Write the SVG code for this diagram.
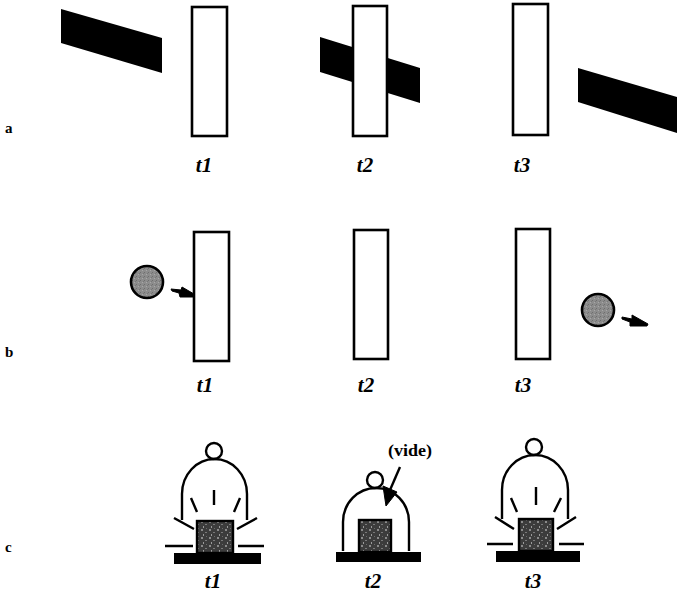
<svg xmlns="http://www.w3.org/2000/svg" width="677" height="601" viewBox="0 0 677 601">
  <style>
    .plate { fill: #fff; stroke: #000; stroke-width: 2.6; }
    .bar { fill: #000; }
    .ball { fill: url(#grain); stroke: #000; stroke-width: 2.6; }
    .dome { fill: none; stroke: #000; stroke-width: 2.4; }
    .ray { fill: none; stroke: #000; stroke-width: 2.4; stroke-linecap: butt; }
    .knob { fill: #fff; stroke: #000; stroke-width: 2.4; }
    .sample { fill: url(#mottle); stroke: #000; stroke-width: 2.4; }
    .base { fill: #000; }
    .tlabel { font-family: "Liberation Serif", serif; font-weight: bold; font-style: italic; font-size: 21px; text-anchor: middle; fill: #000; }
    .row { font-family: "Liberation Serif", serif; font-weight: bold; font-size: 15px; fill: #000; }
    .note { font-family: "Liberation Serif", serif; font-weight: bold; font-size: 16px; fill: #000; }
    .arrow { fill: #000; stroke: #000; stroke-width: 1; stroke-linejoin: round; }
  </style>
  <defs>
    <pattern id="grain" width="4" height="4" patternUnits="userSpaceOnUse">
      <rect width="4" height="4" fill="#8c8c8c"/>
      <rect x="0" y="0" width="1" height="1" fill="#6e6e6e"/>
      <rect x="2" y="2" width="1" height="1" fill="#a8a8a8"/>
      <rect x="3" y="1" width="1" height="1" fill="#777"/>
    </pattern>
    <pattern id="mottle" width="8" height="8" patternUnits="userSpaceOnUse">
      <rect width="8" height="8" fill="#3c3c3c"/>
      <rect x="1" y="1" width="2" height="2" fill="#8a8a8a"/>
      <rect x="5" y="4" width="2" height="1" fill="#7a7a7a"/>
      <rect x="3" y="6" width="1" height="2" fill="#9a9a9a"/>
      <rect x="6" y="0" width="1" height="1" fill="#6a6a6a"/>
    </pattern>
  </defs>

  <!-- row labels -->
  <text class="row" x="5" y="133">a</text>
  <text class="row" x="5" y="357">b</text>
  <text class="row" x="5" y="552">c</text>

  <!-- row a: slab passing through a wall -->
  <g id="a-t1">
    <polygon class="bar" points="61,9 162,38 162,73 61,43"/>
    <rect class="plate" x="192" y="7" width="35" height="129"/>
    <text class="tlabel" x="204" y="172">t1</text>
  </g>
  <g id="a-t2">
    <polygon class="bar" points="320,37 420,68 420,103 320,72"/>
    <rect class="plate" x="353" y="6" width="34" height="130"/>
    <text class="tlabel" x="365" y="172">t2</text>
  </g>
  <g id="a-t3">
    <rect class="plate" x="513" y="4" width="35" height="131"/>
    <polygon class="bar" points="578,68 677,97 677,133 578,102"/>
    <text class="tlabel" x="522" y="172">t3</text>
  </g>

  <!-- row b: ball crossing a wall -->
  <g id="b-t1">
    <circle class="ball" cx="147" cy="282" r="16"/>
    <rect class="plate" x="194" y="232" width="35" height="129"/>
    <text class="tlabel" x="205" y="392">t1</text>
  </g>
  <g id="b-t2">
    <rect class="plate" x="354" y="230" width="34" height="129"/>
    <text class="tlabel" x="366" y="392">t2</text>
  </g>
  <g id="b-t3">
    <rect class="plate" x="516" y="229" width="34" height="130"/>
    <circle class="ball" cx="598" cy="310" r="16"/>
    <text class="tlabel" x="523" y="392">t3</text>
  </g>

  <!-- row c: bell jar over a sample -->
  <g id="c-t1">
    <circle class="knob" cx="214" cy="451" r="8"/>
    <path class="dome" d="M182,520 V494 A32.5,35 0 0 1 247,494 V520"/>
    <path class="ray" d="M191,498 L197,512 M214,490 V505 M240,498 L234,512"/>
    <path class="ray" d="M174,518 L194,529 M237,529 L257,518"/>
    <path class="ray" d="M165,546 H193 M238,546 H264"/>
    <rect class="sample" x="197" y="521" width="36" height="32"/>
    <rect class="base" x="174" y="553" width="87" height="11"/>
    <text class="tlabel" x="213" y="588">t1</text>
  </g>
  <g id="c-t2">
    <circle class="knob" cx="375" cy="480" r="8"/>
    <path class="dome" d="M343,551 V522 A33,34 0 0 1 409,522 V551"/>
    <rect class="sample" x="359" y="520" width="32" height="32"/>
    <rect class="base" x="336" y="552" width="85" height="10"/>
    <text class="note" x="388" y="456" textLength="44" lengthAdjust="spacingAndGlyphs">(vide)</text>
    <text class="tlabel" x="373" y="588">t2</text>
  </g>
  <g id="c-t3">
    <circle class="knob" cx="534" cy="447" r="8"/>
    <path class="dome" d="M502,519 V490 A33,35 0 0 1 568,490 V519"/>
    <path class="ray" d="M511,498 L517,512 M536,487 V505 M561,498 L554,512"/>
    <path class="ray" d="M495,517 L514,529 M557,529 L576,517"/>
    <path class="ray" d="M487,544 H513 M559,544 H584"/>
    <rect class="sample" x="519" y="519" width="34" height="32"/>
    <rect class="base" x="496" y="551" width="84" height="11"/>
    <text class="tlabel" x="533" y="588">t3</text>
  </g>

  <!-- arrows -->
  <g id="connectors">
    <path class="arrow" d="M171,289 L181,290 L182,287 L194,294 L194,297 L180,297 L179,293 L172,291 Z"/>
    <path class="arrow" d="M622,317 L632,319 L632,315 L648,324 L647,326 L630,326 L630,322 L622,319 Z"/>
    <path class="ray" d="M400,467 L390,490"/>
    <path class="arrow" d="M383,486 L397,492 L386,506 Z"/>
  </g>
</svg>
